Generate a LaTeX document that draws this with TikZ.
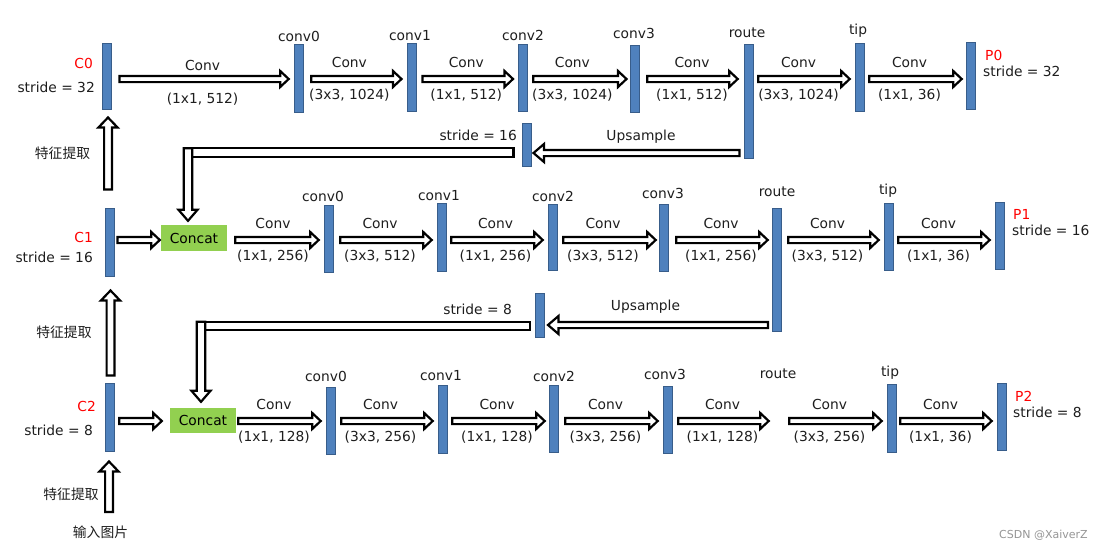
\documentclass[tikz,border=0pt]{standalone}
\usepackage{fontspec}
\setmainfont{DejaVu Sans}
\newfontfamily\cjk{Noto Sans CJK SC}
\usetikzlibrary{calc}
\definecolor{barfill}{RGB}{79,129,189}
\definecolor{barline}{RGB}{56,93,138}
\definecolor{concatg}{RGB}{146,208,80}
\definecolor{txt}{RGB}{30,30,30}
\definecolor{redlab}{RGB}{255,0,0}
\definecolor{wm}{RGB}{150,150,150}
\tikzset{
 bar/.style={draw=barline, fill=barfill, line width=1pt, minimum width=9pt, inner sep=0pt, minimum height=#1},
 concatbox/.style={fill=concatg, minimum width=66pt, minimum height=#1, inner sep=0pt, font=\fontsize{13.8}{16}\selectfont, text=black},
 blk/.style={draw=black, fill=white, line width=2.2pt, line join=miter},
 lab/.style={font=\fontsize{13.8}{16}\selectfont, text=txt, inner sep=0pt, anchor=base},
 redlab/.style={lab, text=redlab},
 cn/.style={font=\cjk\fontsize{13.8}{16}\selectfont, text=txt, inner sep=0pt},
}
\newcommand\aboff{11.5pt}
\newcommand\beoff{20.5pt}
% id, from, to, row, start gap, end gap, label dx, above, below
\newcommand\myrarr[9]{%
 \draw[blk] let \p1=($(#2.east |- #4)+(#5,0)$), \p2=($(#3.west |- #4)+(-#6,0)$) in
  (\x1,\y1+3.1pt) -- (\x2-8.5pt,\y1+3.1pt) -- (\x2-8.5pt,\y1+8pt) -- (\x2,\y1)
  -- (\x2-8.5pt,\y1-8pt) -- (\x2-8.5pt,\y1-3.1pt) -- (\x1,\y1-3.1pt) -- cycle
  node[lab] (#1t) at ({(\x1+\x2)/2+(#7pt)},{\y1+\aboff}) {#8}
  node[lab] (#1b) at ({(\x1+\x2)/2+(#7pt)},{\y1-\beoff}) {#9};}
% id, from, to, row, start gap, end gap
\newcommand\mylarr[6]{%
 \draw[blk] let \p1=($(#2.west |- #4)+(-#5,0)$), \p2=($(#3.east |- #4)+(#6,0)$) in
  (\x1,\y1+3.1pt) -- (\x2+10.5pt,\y1+3.1pt) -- (\x2+10.5pt,\y1+9pt) -- (\x2,\y1)
  -- (\x2+10.5pt,\y1-9pt) -- (\x2+10.5pt,\y1-3.1pt) -- (\x1,\y1-3.1pt) -- cycle;}
% start point, tip point
\newcommand\myuarr[2]{%
 \draw[blk] let \p1=(#1), \p2=(#2) in
  (\x1-3.9pt,\y1) -- (\x1-3.9pt,\y2-10pt) -- (\x1-9.6pt,\y2-10pt) -- (\x1,\y2)
  -- (\x1+9.6pt,\y2-10pt) -- (\x1+3.9pt,\y2-10pt) -- (\x1+3.9pt,\y1) -- cycle;}
% from, to, row, dx, start gap, tip gap
\newcommand\myelbow[6]{%
 \draw[blk] let \p1=($(#1.west |- #3)+(-#5,0)$), \p2=($(#2.north)+(#4,-#6)$) in
  (\x1,\y1+4.2pt) rectangle (\x2-4.2pt,\y1-4.2pt);
 \draw[blk] let \p1=($(#1.west |- #3)+(-#5,0)$), \p2=($(#2.north)+(#4,-#6)$) in
  (\x2-4.2pt,\y1+4.2pt) -- (\x2-4.2pt,\y2+11pt) -- (\x2-9.5pt,\y2+11pt) -- (\x2,\y2)
  -- (\x2+9.5pt,\y2+11pt) -- (\x2+4.2pt,\y2+11pt) -- (\x2+4.2pt,\y1+4.2pt) -- cycle;}
\begin{document}
\begin{tikzpicture}[x=1pt,y=-1pt]
\fill[white] (0,0) rectangle (1103,550);
\useasboundingbox (0,0) rectangle (1103,550);
% row reference lines
\coordinate (R0) at (0,79);
\coordinate (R1) at (0,240);
\coordinate (R2) at (0,421);
\coordinate (U0) at (0,153);
\coordinate (U1) at (0,325);
\coordinate (E0) at (0,152.5);
\coordinate (E1) at (0,326);
\coordinate (inp) at (109,512);
% ---------- row 0 ----------
\node[bar=66] (C0) at (106.5,76) {};
\node[bar=68] (c00) at (299.3,78.5) {};
\node[bar=68] (c01) at (411.5,77) {};
\node[bar=67] (c02) at (523,77.5) {};
\node[bar=67] (c03) at (635,78.5) {};
\node[bar=114] (r0) at (748.5,101) {};
\node[bar=68] (t0) at (860,77) {};
\node[bar=67] (P0) at (970.5,75.5) {};
\node[bar=43] (s16) at (526.5,144.5) {};
% ---------- row 1 ----------
\node[bar=68] (C1) at (109.5,242) {};
\node[concatbox=26pt] (cat1) at (194,238) {Concat};
\node[bar=67] (c10) at (328.5,238.5) {};
\node[bar=68] (c11) at (441.5,237) {};
\node[bar=66] (c12) at (552.5,237) {};
\node[bar=67] (c13) at (663.5,237.5) {};
\node[bar=123] (r1) at (777,269.5) {};
\node[bar=67] (t1) at (888.5,236.5) {};
\node[bar=67] (P1) at (1000,235.5) {};
\node[bar=44] (s8) at (540,315) {};
% ---------- row 2 ----------
\node[bar=68] (C2) at (109.5,417) {};
\node[concatbox=25pt] (cat2) at (203,420.5) {Concat};
\node[bar=67] (c20) at (331,420.5) {};
\node[bar=68] (c21) at (442.5,419) {};
\node[bar=67] (c22) at (553.5,418.5) {};
\node[bar=67] (c23) at (667.5,419.5) {};
\node[bar=68, draw=none, fill=none] (r2) at (779,419) {};
\node[bar=68] (t2) at (891.5,418) {};
\node[bar=67] (P2) at (1001.5,416.5) {};
% ---------- arrows row 0 ----------
{\renewcommand\aboff{9pt}\renewcommand\beoff{24pt}%
\myrarr{a01}{C0}{c00}{R0}{8}{5.6}{-1.5}{Conv}{(1x1, 512)}}
\myrarr{a02}{c00}{c01}{R0}{7}{5}{-7}{Conv}{(3x3, 1024)}
\myrarr{a03}{c01}{c02}{R0}{6}{5}{-1.5}{Conv}{(1x1, 512)}
\myrarr{a04}{c02}{c03}{R0}{5.3}{3.5}{-7.5}{Conv}{(3x3, 1024)}
\myrarr{a05}{c03}{r0}{R0}{7.3}{5.8}{-0.5}{Conv}{(1x1, 512)}
\myrarr{a06}{r0}{t0}{R0}{4.8}{5.3}{-5.5}{Conv}{(3x3, 1024)}
\myrarr{a07}{t0}{P0}{R0}{4.3}{3.8}{-6}{Conv}{(1x1, 36)}
% ---------- arrows row 1 ----------
\myrarr{a11}{C1}{cat1}{R1}{3}{1}{0}{}{}
\myrarr{a12}{cat1}{c10}{R1}{8}{4.8}{-4}{Conv}{(1x1, 256)}
\myrarr{a13}{c10}{c11}{R1}{6.8}{4.8}{-6}{Conv}{(3x3, 512)}
\myrarr{a14}{c11}{c12}{R1}{4.8}{4.8}{-1.5}{Conv}{(1x1, 256)}
\myrarr{a15}{c12}{c13}{R1}{5.8}{2.8}{-6.5}{Conv}{(3x3, 512)}
\myrarr{a16}{c13}{r1}{R1}{7.8}{4.3}{-1}{Conv}{(1x1, 256)}
\myrarr{a17}{r1}{t1}{R1}{6.3}{4.8}{-6}{Conv}{(3x3, 512)}
\myrarr{a18}{t1}{P1}{R1}{4.8}{5.3}{-5.5}{Conv}{(1x1, 36)}
% ---------- arrows row 2 ----------
\myrarr{a21}{C2}{cat2}{R2}{4.8}{8}{0}{}{}
\myrarr{a22}{cat2}{c20}{R2}{2}{5.3}{-5.5}{Conv}{(1x1, 128)}
\myrarr{a23}{c20}{c21}{R2}{5.3}{4.8}{-6.5}{Conv}{(3x3, 256)}
\myrarr{a24}{c21}{c22}{R2}{4.8}{3.8}{-1.5}{Conv}{(1x1, 128)}
\myrarr{a25}{c22}{c23}{R2}{6.8}{4.8}{-6}{Conv}{(3x3, 256)}
\myrarr{a26}{c23}{r2}{R2}{5.8}{5.3}{-1}{Conv}{(1x1, 128)}
\myrarr{a27}{r2}{t2}{R2}{5.3}{4.8}{-6}{Conv}{(3x3, 256)}
\myrarr{a28}{t2}{P2}{R2}{3.8}{4.8}{-5.5}{Conv}{(1x1, 36)}
% ---------- upsample and elbows ----------
\mylarr{u0}{r0}{s16}{U0}{4}{2}
\mylarr{u1}{r1}{s8}{U1}{4}{3}
\myelbow{s16}{cat1}{E0}{-6}{8}{4}
\myelbow{s8}{cat2}{E1}{-2}{5}{6}
% ---------- vertical feature arrows ----------
\myuarr{$(C1.north)+(-1.5,-18)$}{$(C0.south)+(0,8)$}
\myuarr{$(C2.north)+(1,-7)$}{$(C1.south)+(0,14)$}
\myuarr{inp}{$(C2.south)+(0,10)$}
% ---------- bar labels ----------
\node[lab] (l00) at (299,41) {conv0};
\node[lab] (l01) at (410,40) {conv1};
\node[lab] (l02) at (523,40.6) {conv2};
\node[lab] (l03) at (634,38) {conv3};
\node[lab] (l04) at (747,37) {route};
\node[lab] (l05) at (858,34) {tip};
\node[lab] (l10) at (323,201) {conv0};
\node[lab] (l11) at (439,200.7) {conv1};
\node[lab] (l12) at (553,201) {conv2};
\node[lab] (l13) at (663,198) {conv3};
\node[lab] (l14) at (777,196.7) {route};
\node[lab] (l15) at (888,194) {tip};
\node[lab] (l20) at (326,381.5) {conv0};
\node[lab] (l21) at (441,380.7) {conv1};
\node[lab] (l22) at (554,381.7) {conv2};
\node[lab] (l23) at (665,379) {conv3};
\node[lab] (l24) at (778,378) {route};
\node[lab] (l25) at (890,376.5) {tip};
% ---------- side labels ----------
\node[redlab, anchor=base east] (nC0) at (93,68) {C0};
\node[lab, anchor=base east] (sC0) at (95,92) {stride = 32};
\node[redlab, anchor=base east] (nC1) at (93,242) {C1};
\node[lab, anchor=base east] (sC1) at (93,262) {stride = 16};
\node[redlab, anchor=base east] (nC2) at (96,411.7) {C2};
\node[lab, anchor=base east] (sC2) at (93,435) {stride = 8};
\node[redlab, anchor=base west] (nP0) at (985,60.7) {P0};
\node[lab, anchor=base west] (sP0) at (983,76) {stride = 32};
\node[redlab, anchor=base west] (nP1) at (1013,219) {P1};
\node[lab, anchor=base west] (sP1) at (1012,235.7) {stride = 16};
\node[redlab, anchor=base west] (nP2) at (1015,401.7) {P2};
\node[lab, anchor=base west] (sP2) at (1013,417) {stride = 8};
\node[lab] (up0) at (641,140.7) {Upsample};
\node[lab, anchor=base east] (st16) at (517,140.7) {stride = 16};
\node[lab] (up1) at (645.5,310) {Upsample};
\node[lab, anchor=base east] (st8) at (512,314) {stride = 8};
\node[cn] (f0) at (62.5,153) {特征提取};
\node[cn] (f1) at (64,332.5) {特征提取};
\node[cn] (f2) at (71,494) {特征提取};
\node[cn] (inimg) at (100.5,532.5) {输入图片};
\node[font=\fontsize{11}{13}\selectfont, text=wm, inner sep=0pt] (wmk) at (1043.5,535) {CSDN @XaiverZ};
\end{tikzpicture}
\end{document}
